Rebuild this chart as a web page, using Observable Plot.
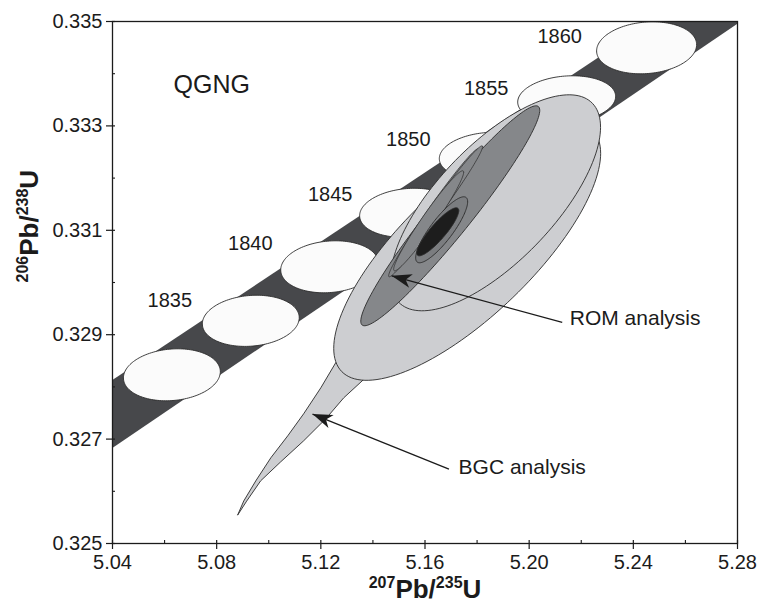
<!DOCTYPE html>
<html><head><meta charset="utf-8">
<script src="https://cdn.jsdelivr.net/npm/d3@7"></script>
<script src="https://cdn.jsdelivr.net/npm/@observablehq/plot@0.6"></script>
<style>body{margin:0;background:#fff}</style>
</head><body><div id="chart"></div>
<script>
// ---------- data ----------
const xTicks = [5.04, 5.08, 5.12, 5.16, 5.20, 5.24, 5.28];
const xMinorTicks = [5.06, 5.10, 5.14, 5.18, 5.22, 5.26];
const yTicks = [0.325, 0.327, 0.329, 0.331, 0.333, 0.335];
const yMinorTicks = [0.326, 0.328, 0.330, 0.332, 0.334];

// concordia band (decay-constant uncertainty envelope)
const bandX = [5.03, 5.29];
const bandLower = [0.326475, 0.335279];
const bandUpper = [0.327786, 0.336397];

// concordia age markers
const ages = [1830, 1835, 1840, 1845, 1850, 1855, 1860];
const ageX = [5.0628, 5.0931, 5.1234, 5.1537, 5.1841, 5.2144, 5.2451];
const ageY = [0.328232, 0.329266, 0.330301, 0.331335, 0.332427, 0.33351, 0.334496];
const ageSx = [0.0186, 0.0186, 0.0188, 0.0188, 0.0186, 0.0188, 0.0192];
const ageSy = [0.000498, 0.00049, 0.000498, 0.00047, 0.00045, 0.00045, 0.000498];
const ageRho = [0.12, 0.12, 0.12, 0.12, 0.12, 0.12, 0.12];
const ageLabels = ["", "1835", "1840", "1845", "1850", "1855", "1860"];
const ageLabelX = [null, 5.0620, 5.0929, 5.1236, 5.1536, 5.1835, 5.2117];
const ageLabelY = [null, 0.329649, 0.330751, 0.33168, 0.332734, 0.33372, 0.334707];

// analysis error ellipses: centre, half-extent in x and y, correlation
const analysisNames = ["BGC envelope", "BGC analysis", "ROM analysis", "ROM fraction 1", "ROM fraction 2", "ROM fraction 3", "ROM inner", "ROM core"];
const analysisX = [5.1762, 5.1871, 5.1697, 5.1633, 5.1660, 5.1614, 5.1664, 5.1649];
const analysisY = [0.330607, 0.331527, 0.331278, 0.331335, 0.331508, 0.331182, 0.331010, 0.330971];
const analysisSx = [0.05125, 0.04031, 0.03436, 0.01727, 0.01612, 0.01344, 0.00998, 0.00806];
const analysisSy = [0.002481, 0.002069, 0.002107, 0.001226, 0.001111, 0.000958, 0.000632, 0.00046];
const analysisRho = [0.753, 0.70, 0.958, 0.985, 0.985, 0.97, 0.85, 0.88];

// BGC spike outline
const spikeX = [5.0881, 5.0904, 5.0950, 5.1008, 5.1073, 5.1134, 5.1200, 5.1257, 5.1315, 5.1507, 5.1622, 5.1380, 5.1288, 5.1219, 5.1134, 5.1046, 5.0969, 5.0916];
const spikeY = [0.32555, 0.325815, 0.326198, 0.326642, 0.327063, 0.327485, 0.327983, 0.328462, 0.328883, 0.329649, 0.329075, 0.328213, 0.327791, 0.327389, 0.326967, 0.326565, 0.326201, 0.325818];

// annotations
const sampleName = "QGNG";
const sampleX = 5.0781, sampleY = 0.333787;
const noteTexts = ["ROM analysis", "BGC analysis"];
const noteX = [5.2156, 5.1729];
const noteY = [0.329314, 0.326469];
const arrowX1 = [5.2127, 5.1692];
const arrowY1 = [0.329234, 0.326425];
const arrowX2 = [5.1472, 5.1168];
const arrowY2 = [0.330128, 0.327479];

const xTitle = "207Pb/235U";
const yTitle = "206Pb/238U";

// ---------- helpers ----------
function ellipseRows(id, cx, cy, sx, sy, rho, n = 144) {
  const k = Math.sqrt(1 - rho * rho);
  return d3.range(n).map(i => {
    const t = 2 * Math.PI * i / n;
    return {id, x: cx + sx * Math.cos(t), y: cy + sy * (rho * Math.cos(t) + k * Math.sin(t))};
  });
}
const bandRows = bandX.map((x, i) => ({x, lo: bandLower[i], hi: bandUpper[i]}));
const ageRows = ages.flatMap((a, i) => ellipseRows(a, ageX[i], ageY[i], ageSx[i], ageSy[i], ageRho[i]));
const ageLabelRows = ages.map((a, i) => ({t: ageLabels[i], x: ageLabelX[i], y: ageLabelY[i]})).filter(d => d.t);
const spikeRows = spikeX.map((x, i) => ({x, y: spikeY[i]}));
const noteRows = noteTexts.map((t, i) => ({t, x: noteX[i], y: noteY[i], x1: arrowX1[i], y1: arrowY1[i], x2: arrowX2[i], y2: arrowY2[i]}));

const INK = "#1b1b1b";
const LIGHT = "#cdced1", MID = "#85878a", MID2 = "#7b7d80", CORE = "#1d1d1d";
const analysisFill = [LIGHT, LIGHT, MID, MID, MID, MID, MID2, CORE];

function filledArrow(color, context) {
  const doc = (context && context.document) || document;
  const ns = "http://www.w3.org/2000/svg";
  const m = doc.createElementNS(ns, "marker");
  m.setAttribute("viewBox", "-21 -9 22 18");
  m.setAttribute("markerWidth", 22);
  m.setAttribute("markerHeight", 18);
  m.setAttribute("markerUnits", "userSpaceOnUse");
  m.setAttribute("refX", 0);
  m.setAttribute("refY", 0);
  m.setAttribute("orient", "auto");
  const p = doc.createElementNS(ns, "path");
  p.setAttribute("d", "M0,0L-20,-7L-14.5,0L-20,7Z");
  p.setAttribute("fill", color);
  p.setAttribute("stroke", "none");
  m.appendChild(p);
  return m;
}

function build(marker) {
  const analysisMarks = analysisNames.map((name, i) =>
    Plot.line(ellipseRows(name, analysisX[i], analysisY[i], analysisSx[i], analysisSy[i], analysisRho[i]),
      {x: "x", y: "y", z: "id", fill: analysisFill[i], stroke: "#2a2a2a", strokeWidth: i >= 3 && i <= 5 ? 0.7 : 0.9, curve: "linear-closed", clip: true}));
  return Plot.plot({
    width: 762, height: 609,
    marginLeft: 112, marginRight: 25, marginTop: 21, marginBottom: 66,
    x: {domain: [5.04, 5.28], axis: null},
    y: {domain: [0.325, 0.335], axis: null},
    style: {fontFamily: "'Liberation Sans', Arial, Helvetica, sans-serif", fontSize: "20px", background: "#fff", color: INK},
    marks: [
      Plot.areaY(bandRows, {x: "x", y1: "lo", y2: "hi", fill: "#47484b", clip: true}),
      Plot.line(ageRows, {x: "x", y: "y", z: "id", fill: "#fbfbfb", stroke: "#2a2a2a", strokeWidth: 0.9, curve: "linear-closed", clip: true}),
      Plot.text(ageLabelRows, {x: "x", y: "y", text: "t", fontSize: 20, fill: INK}),
      Plot.line(spikeRows, {x: "x", y: "y", fill: LIGHT, stroke: "#2a2a2a", strokeWidth: 0.9, curve: "linear-closed"}),
      ...analysisMarks,
      Plot.text([sampleName], {x: sampleX, y: sampleY, text: d => d, fontSize: 25, fill: INK}),
      Plot.link(noteRows, {x1: "x1", y1: "y1", x2: "x2", y2: "y2", stroke: INK, strokeWidth: 1.3, markerEnd: marker}),
      Plot.text(noteRows, {x: "x", y: "y", text: "t", textAnchor: "start", fontSize: 21, fill: INK}),
      // ticks
      Plot.tickX(xTicks, {x: d => d, insetTop: 519, insetBottom: -6, stroke: INK, strokeWidth: 1.2}),
      Plot.tickX(xMinorTicks, {x: d => d, insetTop: 519, stroke: INK, strokeWidth: 1.1}),
      Plot.tickY(yTicks, {y: d => d, insetLeft: -6, insetRight: 622, stroke: INK, strokeWidth: 1.2}),
      Plot.tickY(yMinorTicks, {y: d => d, insetRight: 622, stroke: INK, strokeWidth: 1.1}),
      Plot.text(xTicks, {x: d => d, frameAnchor: "bottom", dy: 25, text: d => d3.format(".2f")(d), fontSize: 20, fill: INK}),
      Plot.text(yTicks, {y: d => d, frameAnchor: "left", dx: -10, textAnchor: "end", text: d => d3.format(".3f")(d), fontSize: 20, fill: INK}),
      Plot.text([xTitle], {frameAnchor: "bottom", dy: 54, text: d => d, fontSize: 26, fontWeight: "bold", fill: INK}),
      Plot.text([yTitle], {frameAnchor: "left", dx: -83, rotate: -90, text: d => d, fontSize: 26, fontWeight: "bold", fill: INK}),
      Plot.frame({stroke: INK, strokeWidth: 1.3})
    ]
  });
}

let chart;
try { chart = build(filledArrow); } catch (e) { chart = build("arrow"); }

// rich-text titles with superscript isotopes
d3.select(chart).selectAll("text").each(function () {
  const t = this.textContent;
  if (t !== xTitle && t !== yTitle) return;
  const parts = [[t.slice(0, 3), true], [t.slice(3, 6), false], [t.slice(6, 9), true], [t.slice(9), false]];
  const sel = d3.select(this);
  sel.text(null);
  let raised = false;
  parts.forEach(([s, sup]) => {
    const ts = sel.append("tspan").text(s);
    if (sup) { ts.attr("font-size", 16).attr("dy", raised ? 0 : -10); raised = true; }
    else { ts.attr("dy", raised ? 10 : 0); raised = false; }
  });
});

document.getElementById("chart").appendChild(chart);
</script>
</body></html>
